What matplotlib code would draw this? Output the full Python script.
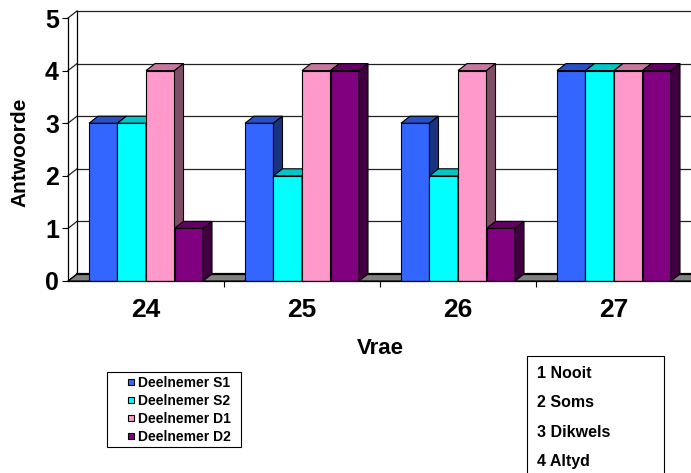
import matplotlib
matplotlib.use("Agg")
import matplotlib.pyplot as plt
from matplotlib.patches import Polygon, Rectangle
from matplotlib.lines import Line2D
import numpy as np

plt.rcParams['font.family'] = ['Liberation Sans', 'DejaVu Sans']

# Data
categories = ['24', '25', '26', '27']
series_names = ['Deelnemer S1', 'Deelnemer S2', 'Deelnemer D1', 'Deelnemer D2']
s1 = [3, 3, 3, 4]
s2 = [3, 2, 2, 4]
d1 = [4, 4, 4, 4]
d2 = [1, 4, 1, 4]
scale_labels = ['1 Nooit', '2 Soms', '3 Dikwels', '4 Altyd']

values = [s1, s2, d1, d2]
front_colors = ['#3366FF', '#00FFFF', '#FF99CC', '#800080']


def shade(hex_color, f):
    rgb = np.array(matplotlib.colors.to_rgb(hex_color)) * f
    return tuple(rgb)


W, H = 691, 473
fig = plt.figure(figsize=(W / 100, H / 100), dpi=100)

# axes covering the front plane of the 3-D box
left_px, right_px = 68, 692
y0_px, y5_px = 281, 18
ax = fig.add_axes([left_px / W, (H - y0_px) / H,
                   (right_px - left_px) / W, (y0_px - y5_px) / H])
ax.set_xlim(-0.5, 3.5)
ax.set_ylim(0, 5)

# depth offset (data units)
dx = 9 / ((right_px - left_px) / 4)
dy = 7 / ((y0_px - y5_px) / 5)

xl, xr = -0.5, 3.5
# back wall grid and frame
for k in range(1, 6):
    ax.plot([xl + dx, xr + dx], [k + dy, k + dy], color='#222222', lw=0.9,
            clip_on=False, zorder=1)
    ax.plot([xl, xl + dx], [k, k + dy], color='#222222', lw=0.9,
            clip_on=False, zorder=1)
ax.plot([xl + dx, xl + dx], [dy, 5 + dy], color='black', lw=0.9,
        clip_on=False, zorder=1)

# floor
floor = Polygon([(xl, 0), (xr, 0), (xr + dx, dy), (xl + dx, dy)],
                closed=True, facecolor='#808080', edgecolor='black', lw=0.8,
                clip_on=False, zorder=2)
ax.add_patch(floor)
ax.plot([xl + dx, xr + dx], [dy, dy], color='black', lw=1.6,
        clip_on=False, zorder=2)
ax.plot([xl, xl + dx], [0, dy], color='black', lw=0.8, clip_on=False, zorder=2)

# bars
bw = 0.1827
x = np.arange(len(categories))
offsets = (np.arange(4) - 1.5) * bw
z = 3
for ci in range(len(categories)):
    for si in range(4):
        v = values[si][ci]
        xc = x[ci] + offsets[si]
        x0, x1 = xc - bw / 2, xc + bw / 2
        col = front_colors[si]
        ax.bar(xc, v, width=bw, color=col, edgecolor='black', linewidth=0.8,
               zorder=z)
        top = Polygon([(x0, v), (x1, v), (x1 + dx, v + dy), (x0 + dx, v + dy)],
                      closed=True, facecolor=shade(col, 0.78),
                      edgecolor='black', lw=0.8, clip_on=False, zorder=z)
        side = Polygon([(x1, 0), (x1 + dx, dy), (x1 + dx, v + dy), (x1, v)],
                       closed=True, facecolor=shade(col, 0.5),
                       edgecolor='black', lw=0.8, clip_on=False, zorder=z)
        ax.add_patch(top)
        ax.add_patch(side)
        z += 1

# axes styling
for s in ['top', 'right']:
    ax.spines[s].set_visible(False)
ax.spines['left'].set_linewidth(0.9)
ax.spines['bottom'].set_linewidth(0.9)
ax.spines['left'].set_zorder(50)
ax.spines['bottom'].set_zorder(50)

ax.set_yticks(range(6))
ax.set_yticklabels([str(i) for i in range(6)], fontsize=18, fontweight='bold')
ax.tick_params(axis='y', length=4, width=0.8, pad=2.5)

ax.set_xticks(x)
ax.set_xticklabels(categories, fontsize=19, fontweight='bold')
ax.set_xticks(x[:-1] + 0.5, minor=True)
ax.tick_params(axis='x', which='major', length=0, pad=12)
ax.tick_params(axis='x', which='minor', length=4, width=0.8)

fig.text(19.5 / W, 1 - 152 / H, 'Antwoorde', rotation=90, fontsize=15,
         fontweight='bold', ha='center', va='center')
fig.text(380 / W, 1 - 348 / H, 'Vrae', fontsize=16, fontweight='bold',
         ha='center', va='center')

# series legend: frame drawn separately, entries placed inside it
lx0, lx1, ly0, ly1 = 107, 241, 372, 447
fig.patches.append(Rectangle((lx0 / W, 1 - ly1 / H), (lx1 - lx0) / W,
                             (ly1 - ly0) / H, transform=fig.transFigure,
                             facecolor='white', edgecolor='black', lw=0.8))
handles = [Line2D([], [], marker='s', linestyle='none', markersize=5,
                  markerfacecolor=c, markeredgecolor='black',
                  markeredgewidth=0.8) for c in front_colors]
leg = fig.legend(handles, series_names, loc='upper left',
                 bbox_to_anchor=(125 / W, 1 - 376 / H),
                 prop={'size': 10, 'weight': 'bold'}, frameon=False,
                 handlelength=0.8, handletextpad=0.15,
                 labelspacing=0.28, borderpad=0, borderaxespad=0)

# answer scale key
fig.patches.append(Rectangle((527 / W, -0.05), (664 - 527) / W,
                             (H - 356) / H + 0.05, transform=fig.transFigure,
                             facecolor='white', edgecolor='black', lw=0.8))
for i, lab in enumerate(scale_labels):
    fig.text(537 / W, 1 - (373 + i * 29.5) / H, lab, fontsize=11.5,
             fontweight='bold', ha='left', va='center')

fig.savefig('out.png', dpi=100)
